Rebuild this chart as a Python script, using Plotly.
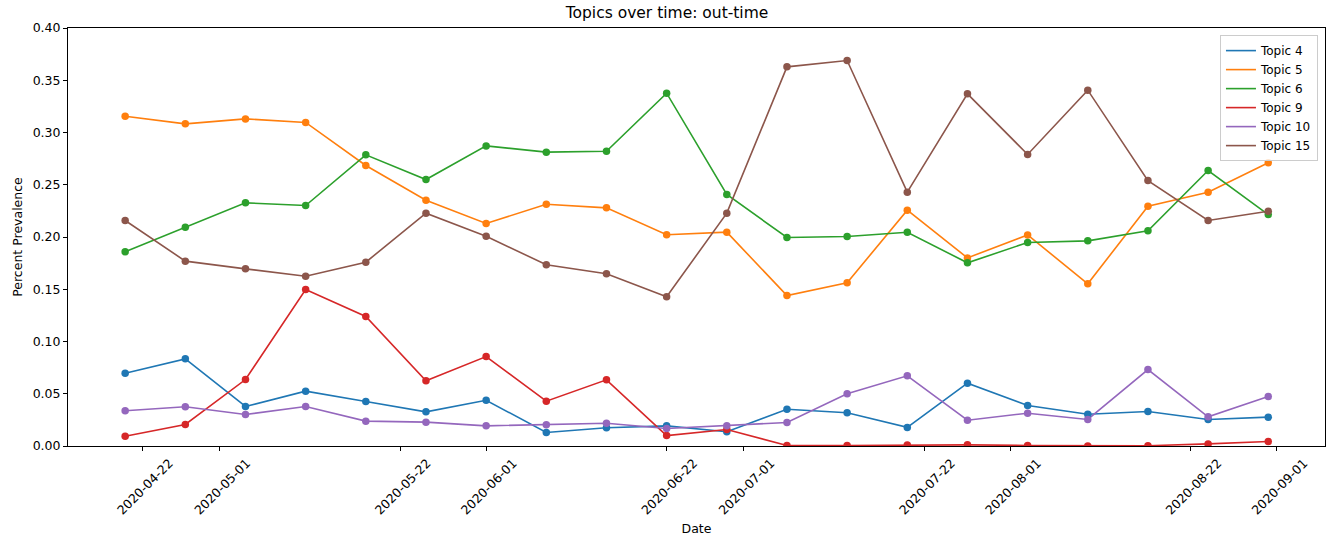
import plotly.graph_objects as go

# Weekly observation dates
dates = [
    "2020-04-20", "2020-04-27", "2020-05-04", "2020-05-11", "2020-05-18",
    "2020-05-25", "2020-06-01", "2020-06-08", "2020-06-15", "2020-06-22",
    "2020-06-29", "2020-07-06", "2020-07-13", "2020-07-20", "2020-07-27",
    "2020-08-03", "2020-08-10", "2020-08-17", "2020-08-24", "2020-08-31",
]

# Topic prevalence per week
topic_4 = [0.0697, 0.0834, 0.0378, 0.0525, 0.0426, 0.0327, 0.0438, 0.0129, 0.0174, 0.0193,
           0.0136, 0.0352, 0.0318, 0.0178, 0.0601, 0.0388, 0.0304, 0.0330, 0.0254, 0.0276]
topic_5 = [0.3156, 0.3083, 0.3130, 0.3096, 0.2684, 0.2352, 0.2129, 0.2314, 0.2279, 0.2021,
           0.2046, 0.1440, 0.1562, 0.2257, 0.1800, 0.2020, 0.1552, 0.2295, 0.2429, 0.2710]
topic_6 = [0.1858, 0.2094, 0.2327, 0.2301, 0.2786, 0.2550, 0.2872, 0.2812, 0.2821, 0.3376,
           0.2407, 0.1995, 0.2005, 0.2046, 0.1753, 0.1947, 0.1963, 0.2059, 0.2636, 0.2215]
topic_9 = [0.0094, 0.0206, 0.0636, 0.1498, 0.1239, 0.0624, 0.0856, 0.0429, 0.0633, 0.0100,
           0.0158, 0.0005, 0.0004, 0.0010, 0.0011, 0.0005, 0.0001, 0.0003, 0.0020, 0.0043]
topic_10 = [0.0337, 0.0375, 0.0301, 0.0378, 0.0238, 0.0228, 0.0193, 0.0203, 0.0218, 0.0167,
            0.0193, 0.0225, 0.0500, 0.0672, 0.0247, 0.0314, 0.0254, 0.0732, 0.0279, 0.0474]
topic_15 = [0.2158, 0.1769, 0.1695, 0.1625, 0.1759, 0.2228, 0.2008, 0.1734, 0.1648, 0.1428,
            0.2228, 0.3628, 0.3689, 0.2429, 0.3370, 0.2790, 0.3405, 0.2540, 0.2158, 0.2247]

series_names = ["Topic 4", "Topic 5", "Topic 6", "Topic 9", "Topic 10", "Topic 15"]
series_values = [topic_4, topic_5, topic_6, topic_9, topic_10, topic_15]
colors = ["#1f77b4", "#ff7f0e", "#2ca02c", "#d62728", "#9467bd", "#8c564b"]

tick_dates = ["2020-04-22", "2020-05-01", "2020-05-22", "2020-06-01", "2020-06-22",
              "2020-07-01", "2020-07-22", "2020-08-01", "2020-08-22", "2020-09-01"]
y_ticks = [0.00, 0.05, 0.10, 0.15, 0.20, 0.25, 0.30, 0.35, 0.40]

FONT = "DejaVu Sans"

fig = go.Figure()
for name, vals, col in zip(series_names, series_values, colors):
    # line (shown in legend)
    fig.add_trace(go.Scatter(
        x=dates, y=vals, mode="lines", name=name, legendgroup=name,
        line=dict(color=col, width=1.6),
    ))
for name, vals, col in zip(series_names, series_values, colors):
    # point markers on top
    fig.add_trace(go.Scatter(
        x=dates, y=vals, mode="markers", name=name, legendgroup=name,
        showlegend=False, marker=dict(color=col, size=7.5, line=dict(width=0)),
    ))

axis_common = dict(
    showgrid=False, zeroline=False, showline=True, linecolor="black", linewidth=1,
    mirror=True, ticks="outside", ticklen=4, tickwidth=1, tickcolor="black",
    tickfont=dict(family=FONT, size=12.5, color="black"), automargin=False,
)

fig.update_layout(
    width=1334, height=537,
    margin=dict(l=68, r=9, t=28, b=91),
    paper_bgcolor="white", plot_bgcolor="white",
    font=dict(family=FONT, size=12, color="black"),
    title=dict(text="Topics over time: out-time", x=0.5, xanchor="center",
               y=0.976, yanchor="middle",
               font=dict(family=FONT, size=15.5, color="black")),
    xaxis=dict(
        axis_common,
        type="date",
        range=["2020-04-13 08:24", "2020-09-06 14:24"],
        tickmode="array", tickvals=tick_dates, ticktext=tick_dates,
        tickangle=-45, ticklabelshift=27, ticklabelstandoff=0,
        title=dict(text="Date", font=dict(family=FONT, size=12.5), standoff=7),
    ),
    yaxis=dict(
        axis_common,
        range=[0, 0.40],
        tickmode="array", tickvals=y_ticks, tickformat=".2f",
        title=dict(text="Percent Prevalence", font=dict(family=FONT, size=12.5),
                   standoff=7),
    ),
    legend=dict(
        x=0.9944, xanchor="right", y=0.983, yanchor="top",
        bgcolor="rgba(255,255,255,0.8)", bordercolor="#cccccc", borderwidth=1,
        font=dict(family=FONT, size=12, color="black"),
        tracegroupgap=0,
    ),
)

fig.write_html("out.html")
